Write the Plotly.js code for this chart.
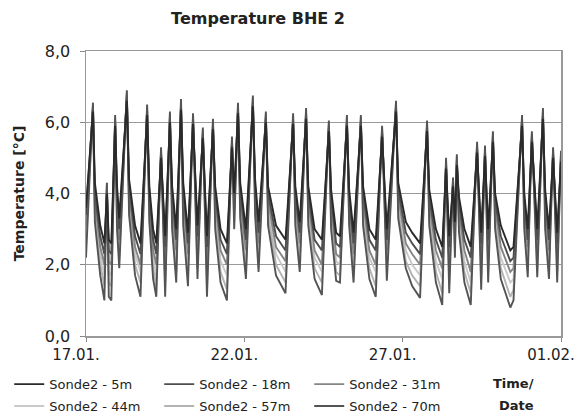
<!DOCTYPE html>
<html>
<head>
<meta charset="utf-8">
<script src="https://cdn.plot.ly/plotly-3.0.1.min.js"></script>
<style>html,body{margin:0;padding:0;background:#fff;}#chart{width:576px;height:419px;}</style>
</head>
<body>
<div id="chart"></div>
<script>
// time in days after 17.01.
const t = [0,0.22,0.28,0.45,0.58,0.66,0.72,0.80,0.92,0.98,1.05,1.29,1.36,1.55,1.72,1.93,2.00,2.12,2.22,2.37,2.50,2.65,2.72,2.85,3.00,3.07,3.22,3.38,3.52,3.69,3.82,4.01,4.08,4.25,4.45,4.61,4.68,4.80,4.87,5.05,5.27,5.34,5.45,5.68,5.75,6.00,6.30,6.54,6.61,6.75,6.95,7.02,7.22,7.45,7.67,7.74,7.90,8.02,8.24,8.31,8.45,8.68,8.75,8.95,9.15,9.35,9.50,9.79,9.86,10.10,10.30,10.55,10.77,10.84,11.05,11.25,11.37,11.47,11.59,11.65,11.71,11.78,11.95,12.15,12.35,12.48,12.60,12.70,12.85,12.92,13.10,13.40,13.50,13.77,13.84,13.95,14.08,14.25,14.43,14.50,14.62,14.75,14.88,15.00];

const s5 = [3.6,6.3,4.3,3.1,2.6,4.0,2.7,2.6,5.9,4.2, 3.3,6.6,4.4,3.1,2.6,6.2,4.2,3.0,2.6,5.0, 2.8,6.0,4.2,3.0,6.35,4.3,2.9,5.95,3.1,5.55, 2.8,5.8,4.2,3.0,2.6,5.3,4.0,6.25,4.3,3.0, 6.45,4.4,3.2,6.0,4.2,3.1,2.7,5.95,4.2,3.2, 6.1,4.2,3.0,2.7,5.75,4.1,2.9,2.8,5.9,4.1, 2.9,5.9,4.2,3.0,2.7,5.6,3.0,6.3,4.3,3.2, 2.9,2.6,5.75,4.1,3.0,2.5,4.7,2.8,4.2,3.2, 4.8,3.9,3.0,2.5,5.15,2.9,5.05,3.0,5.45,4.0, 3.1,2.4,2.5,5.9,4.0,3.0,5.45,3.0,6.1,4.1, 3.0,5.0,2.9,4.9];
const s18 = [3.4,6.4,4.0,2.8,2.3,4.1,2.4,2.3,6.0,4.0, 3.0,6.7,4.2,2.8,2.3,6.3,4.0,2.7,2.3,5.1, 2.5,6.1,4.0,2.7,6.45,4.1,2.6,6.05,2.8,5.65, 2.5,5.9,4.0,2.7,2.3,5.4,3.8,6.35,4.1,2.7, 6.55,4.2,2.9,6.1,4.0,2.8,2.4,6.05,4.0,2.9, 6.2,4.0,2.7,2.4,5.85,3.9,2.6,2.5,6.0,3.9, 2.6,6.0,4.0,2.7,2.4,5.7,2.7,6.4,4.1,2.9, 2.6,2.3,5.85,3.9,2.7,2.2,4.8,2.5,4.3,3.0, 4.9,3.7,2.7,2.2,5.25,2.6,5.15,2.7,5.55,3.8, 2.8,2.1,2.2,6.0,3.8,2.7,5.55,2.7,6.2,3.9, 2.7,5.1,2.6,5.0];
const s31 = [3.1,6.45,3.8,2.5,2.0,4.2,2.1,2.0,6.05,3.7, 2.7,6.75,4.0,2.5,2.0,6.35,3.8,2.4,2.0,5.15, 2.1,6.15,3.7,2.4,6.5,3.9,2.3,6.1,2.5,5.7, 2.1,5.95,3.8,2.4,2.0,5.45,3.6,6.4,3.9,2.4, 6.6,4.0,2.6,6.15,3.8,2.5,2.1,6.1,3.8,2.6, 6.25,3.8,2.4,2.0,5.9,3.7,2.3,2.2,6.05,3.7, 2.3,6.05,3.8,2.4,2.0,5.75,2.4,6.45,3.9,2.6, 2.3,2.0,5.9,3.7,2.4,1.9,4.85,2.1,4.35,2.8, 4.95,3.5,2.4,1.8,5.3,2.2,5.2,2.4,5.6,3.6, 2.5,1.8,1.9,6.05,3.6,2.5,5.6,2.5,6.25,3.7, 2.4,5.15,2.3,5.05];
const s44 = [2.9,6.5,3.6,2.3,1.7,4.25,1.8,1.7,6.1,3.5, 2.5,6.8,3.8,2.3,1.8,6.4,3.6,2.2,1.7,5.2, 1.8,6.2,3.5,2.1,6.55,3.6,2.0,6.15,2.2,5.75, 1.8,6.0,3.5,2.1,1.7,5.5,3.4,6.45,3.7,2.2, 6.65,3.8,2.4,6.2,3.6,2.3,1.8,6.15,3.6,2.4, 6.3,3.6,2.2,1.8,5.95,3.5,2.1,2.0,6.1,3.5, 2.1,6.1,3.5,2.2,1.8,5.8,2.2,6.5,3.7,2.4, 2.0,1.7,5.95,3.5,2.1,1.6,4.9,1.8,4.4,2.6, 5.0,3.3,2.1,1.5,5.35,1.9,5.25,2.1,5.65,3.4, 2.2,1.5,1.6,6.1,3.4,2.2,5.65,2.2,6.3,3.5, 2.2,5.2,2.1,5.1];
const s57 = [2.6,6.5,3.4,2.0,1.4,4.3,1.5,1.4,6.15,3.3, 2.2,6.85,3.6,2.0,1.5,6.45,3.4,1.9,1.4,5.25, 1.4,6.25,3.3,1.8,6.6,3.4,1.7,6.2,1.9,5.8, 1.4,6.05,3.3,1.8,1.3,5.55,3.2,6.5,3.5,1.9, 6.7,3.6,2.1,6.25,3.4,2.0,1.5,6.2,3.3,2.1, 6.35,3.3,1.9,1.5,6.0,3.2,1.8,1.7,6.15,3.3, 1.8,6.15,3.3,1.9,1.4,5.85,1.9,6.55,3.5,2.1, 1.7,1.4,6.0,3.3,1.8,1.2,4.95,1.5,4.45,2.4, 5.05,3.1,1.8,1.2,5.4,1.6,5.3,1.8,5.7,3.2, 1.9,1.1,1.3,6.15,3.2,1.9,5.7,1.9,6.35,3.2, 1.9,5.25,1.8,5.15];
const s70 = [2.2,6.55,3.2,1.7,1.0,4.3,1.1,1.0,6.2,3.0, 1.9,6.9,3.4,1.7,1.1,6.5,3.2,1.6,1.1,5.3, 1.1,6.3,3.0,1.5,6.65,3.1,1.4,6.25,1.6,5.85, 1.1,6.1,3.0,1.5,1.0,5.6,3.0,6.55,3.3,1.6, 6.75,3.4,1.8,6.3,3.1,1.7,1.2,6.25,3.1,1.8, 6.4,3.1,1.6,1.15,6.05,3.0,1.55,1.5,6.2,3.1, 1.5,6.2,3.1,1.6,1.1,5.9,1.55,6.6,3.3,1.9, 1.4,1.07,6.05,3.1,1.5,0.87,5.0,1.2,4.45,2.2, 5.1,2.9,1.5,0.87,5.45,1.3,5.35,1.5,5.75,3.0, 1.6,0.8,1.0,6.2,3.0,1.65,5.75,1.65,6.4,3.0, 1.6,5.3,1.5,5.2];

const tickDays = [0, 5, 10, 15];
const tickLabels = ['17.01.', '22.01.', '27.01.', '01.02.'];
const seriesNames = ['Sonde2 - 5m','Sonde2 - 18m','Sonde2 - 31m','Sonde2 - 44m','Sonde2 - 57m','Sonde2 - 70m'];
const seriesValues = [s5, s18, s31, s44, s57, s70];
const seriesColors = ['#2a2a2a','#4e4e4e','#858585','#c9c9c9','#b3b3b3','#545454'];
const legendOf = ['legend','legend','legend','legend2','legend2','legend2'];
const drawOrder = [3, 4, 2, 1, 5, 0];

const traces = drawOrder.map(i => ({
  type: 'scatter', mode: 'lines', x: t, y: seriesValues[i], name: seriesNames[i],
  line: {color: seriesColors[i], width: 1.9},
  legend: legendOf[i], legendrank: i + 1, hoverinfo: 'skip'
}));

const font = 'DejaVu Sans, Verdana, sans-serif';
const legendBase = {
  orientation: 'h', xref: 'container', yref: 'container', xanchor: 'left', yanchor: 'middle', x: 0.016,
  font: {family: font, size: 13, color: '#222'}, entrywidth: 105, entrywidthmode: 'pixels',
  itemwidth: 30, bgcolor: 'rgba(0,0,0,0)', traceorder: 'normal', tracegroupgap: 0
};

const layout = {
  width: 576, height: 419,
  margin: {l: 86, r: 15, t: 51, b: 83},
  paper_bgcolor: '#fff', plot_bgcolor: '#fff',
  separators: ',.',
  font: {family: font, color: '#222'},
  title: {text: '<b>Temperature BHE 2</b>', font: {family: font, size: 16, color: '#222'},
          x: 0.448, xanchor: 'center', xref: 'container', y: 0.955, yanchor: 'middle'},
  xaxis: {range: [0, 15], tickvals: tickDays, ticktext: tickLabels, ticks: 'outside', ticklen: 4,
          tickcolor: '#888', showgrid: false, showline: true, linecolor: '#999', linewidth: 1.5,
          mirror: true, zeroline: false, automargin: false,
          tickfont: {family: font, size: 15, color: '#222'}, ticklabelshift: -10},
  yaxis: {range: [0, 8], dtick: 2, tickformat: '.1f', ticks: 'outside', ticklen: 5, tickcolor: '#888',
          showgrid: true, gridcolor: '#9a9a9a', gridwidth: 1.3, showline: true, linecolor: '#999',
          linewidth: 1.5, mirror: true, zeroline: false, automargin: false, ticklabelstandoff: 6,
          tickfont: {family: font, size: 16, color: '#222'},
          title: {text: '<b>Temperature [°C]</b>', font: {family: font, size: 14, color: '#222'}, standoff: 17}},
  legend: Object.assign({}, legendBase, {y: 0.083}),
  legend2: Object.assign({}, legendBase, {y: 0.031}),
  annotations: [
    {text: '<b>Time/</b>', xref: 'paper', yref: 'paper', x: 0.947, y: -0.168, yanchor: 'middle',
     showarrow: false, font: {family: font, size: 13, color: '#222'}},
    {text: '<b>Date</b>', xref: 'paper', yref: 'paper', x: 0.947, y: -0.245, yanchor: 'middle',
     showarrow: false, font: {family: font, size: 13, color: '#222'}}
  ]
};

Plotly.newPlot('chart', traces, layout, {staticPlot: true, displayModeBar: false});
</script>
</body>
</html>
